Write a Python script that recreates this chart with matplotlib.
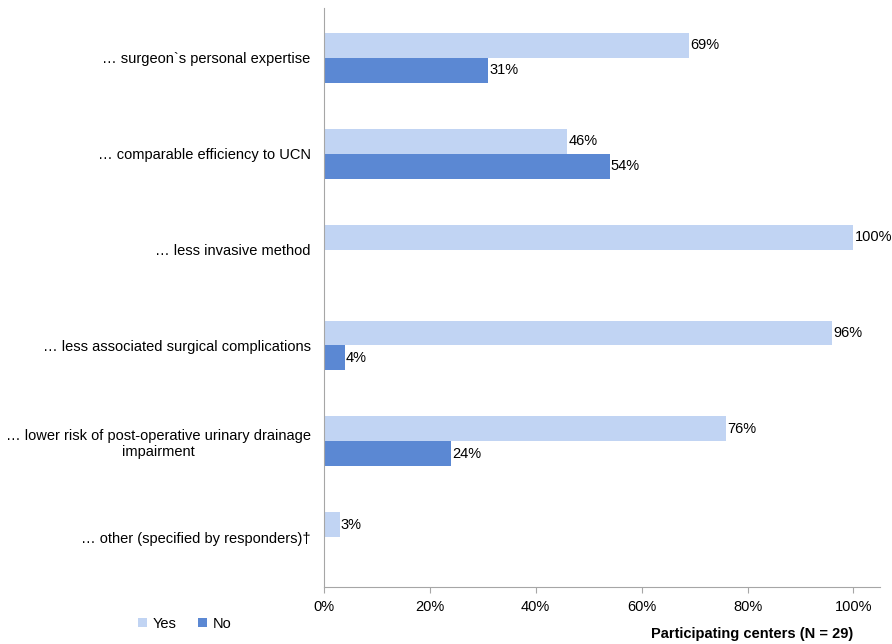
import matplotlib
matplotlib.use("Agg")
import matplotlib.pyplot as plt
import numpy as np
from matplotlib.ticker import FuncFormatter

plt.rcParams['font.family'] = ['Liberation Sans', 'DejaVu Sans']

categories = [
    "… surgeon`s personal expertise",
    "… comparable efficiency to UCN",
    "… less invasive method",
    "… less associated surgical complications",
    "… lower risk of post-operative urinary drainage\nimpairment",
    "… other (specified by responders)†",
]
yes_pct = [69, 46, 100, 96, 76, 3]
no_pct = [31, 54, 0, 4, 24, 0]

yes_color = "#c1d4f3"
no_color = "#5b88d3"

fig = plt.figure(figsize=(8.92, 6.44), dpi=100)
ax = fig.add_axes([0.363, 0.0885, 0.6235, 0.899])

y = np.arange(len(categories))
h = 0.26
ax.barh(y - h / 2, yes_pct, height=h, color=yes_color, label="Yes")
ax.barh(y + h / 2, no_pct, height=h, color=no_color, label="No")

for yi, v in zip(y, yes_pct):
    ax.text(v + 0.2, yi - h / 2, f"{v}%", va="center", ha="left", fontsize=10.5)
for yi, v in zip(y, no_pct):
    if v > 0:
        ax.text(v + 0.2, yi + h / 2, f"{v}%", va="center", ha="left", fontsize=10.5)

ax.set_ylim(len(categories) - 0.5 + 0.02, -0.5 - 0.02)
ax.set_xlim(0, 105)
ax.set_yticks(y)
ax.set_yticklabels(categories, fontsize=10.5, ha="right", multialignment="center")
ax.tick_params(axis="y", length=0, pad=9.5)
ax.set_xticks([0, 20, 40, 60, 80, 100])
ax.xaxis.set_major_formatter(FuncFormatter(lambda v, p: f"{v:.0f}%"))
ax.tick_params(axis="x", labelsize=10.5, length=4, color="#a6a6a6", pad=5)

for s in ("top", "right"):
    ax.spines[s].set_visible(False)
for s in ("left", "bottom"):
    ax.spines[s].set_color("#a6a6a6")

fig.text(0.956, 0.004, "Participating centers (N = 29)", ha="right", va="bottom",
         fontsize=10.5, fontweight="bold")

ax.legend(loc="lower left", bbox_to_anchor=(0.14, 0.0), bbox_transform=fig.transFigure,
          ncol=2, frameon=False, fontsize=10.5, handlelength=0.6, handleheight=0.6,
          handletextpad=0.4, columnspacing=1.5)

fig.savefig("out.png", dpi=100)
